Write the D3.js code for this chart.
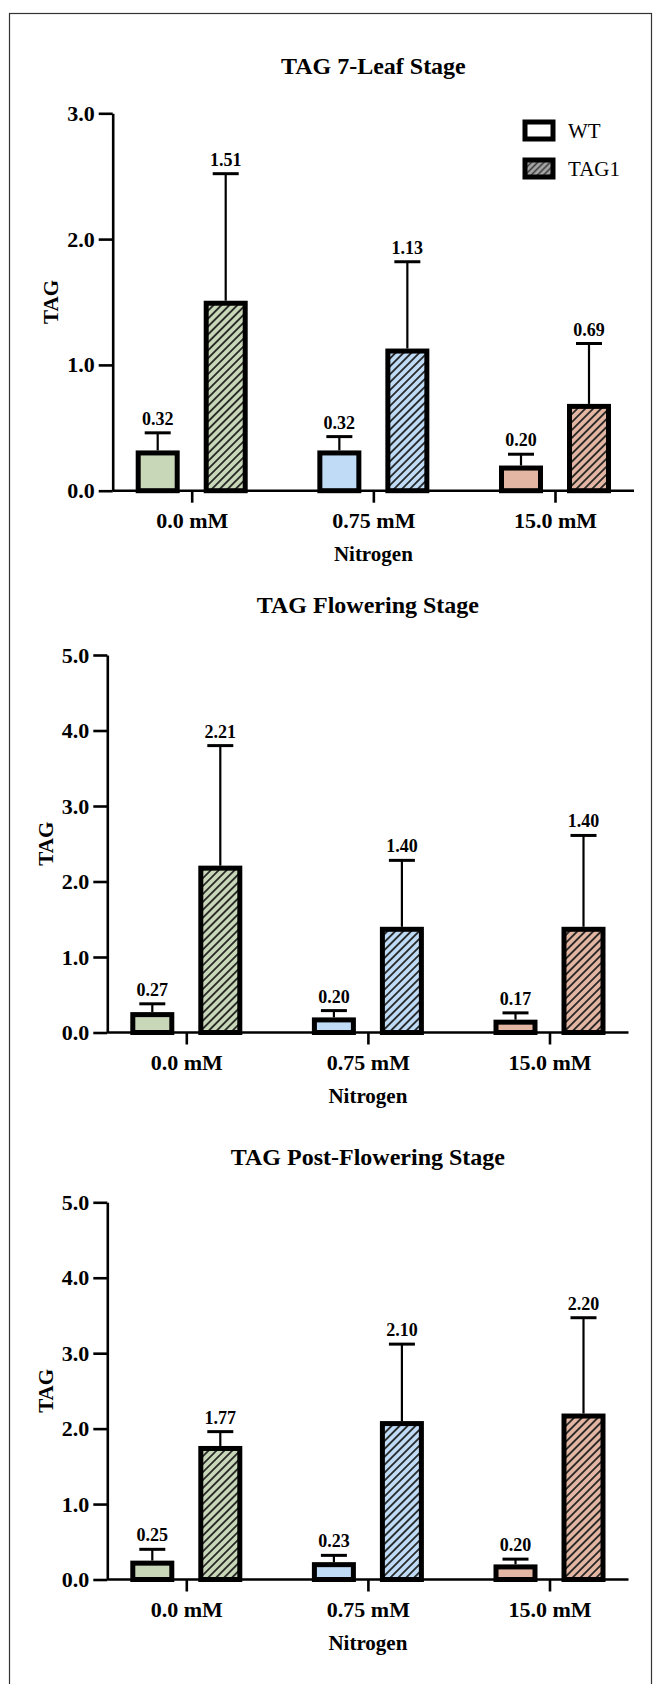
<!DOCTYPE html>
<html>
<head>
<meta charset="utf-8">
<script src="https://cdn.jsdelivr.net/npm/d3@7"></script>
<style>
  html, body { margin: 0; padding: 0; background: #fff; }
  svg { display: block; }
  text { font-family: "Liberation Serif", "Times New Roman", serif; fill: #000; }
</style>
</head>
<body>
<svg id="chart" width="654" height="1684"></svg>
<script>
// ---------- data ----------
const categories = ["0.0 mM", "0.75 mM", "15.0 mM"];
const series = ["WT", "TAG1"];
const stageTitles = ["TAG 7-Leaf Stage", "TAG Flowering Stage", "TAG Post-Flowering Stage"];
const yAxisTitle = "TAG";
const xAxisTitle = "Nitrogen";

const wt7Leaf = [0.32, 0.32, 0.20];
const tag7Leaf = [1.51, 1.13, 0.69];
const wtErr7Leaf = [0.14, 0.11, 0.09];
const tagErr7Leaf = [1.01, 0.69, 0.48];

const wtFlowering = [0.27, 0.20, 0.17];
const tagFlowering = [2.21, 1.40, 1.40];
const wtErrFlowering = [0.11, 0.09, 0.09];
const tagErrFlowering = [1.59, 0.88, 1.21];

const wtPost = [0.25, 0.23, 0.20];
const tagPost = [1.77, 2.10, 2.20];
const wtErrPost = [0.15, 0.09, 0.07];
const tagErrPost = [0.19, 1.02, 1.27];

const yMax7Leaf = 3, yMaxFlowering = 5, yMaxPost = 5;
const yTicks7Leaf = [0, 1, 2, 3];
const yTicksFlowering = [0, 1, 2, 3, 4, 5];
const yTicksPost = [0, 1, 2, 3, 4, 5];

const categoryColors = ["#c9d7b9", "#bfdbf5", "#e2b6a3"];

// ---------- drawing ----------
const FONT = "'Liberation Serif', 'Times New Roman', serif";
const svg = d3.select("#chart");
const defs = svg.append("defs");

function hatch(id, bg, lineColor, spacing, sw) {
  const p = defs.append("pattern").attr("id", id)
    .attr("patternUnits", "userSpaceOnUse")
    .attr("width", spacing).attr("height", spacing)
    .attr("patternTransform", "rotate(45)");
  p.append("rect").attr("width", spacing).attr("height", spacing).attr("fill", bg);
  p.append("line").attr("x1", spacing / 2).attr("x2", spacing / 2)
    .attr("y1", 0).attr("y2", spacing)
    .attr("stroke", lineColor).attr("stroke-width", sw);
}
categoryColors.forEach((c, i) => hatch("hatch" + i, c, "#1a1a1a", 5.6, 1.7));
hatch("hatchLegend", "#a8a8a8", "#3a3a3a", 4.4, 1.6);

// outer frame
svg.append("rect").attr("x", 9.5).attr("y", 13.5).attr("width", 642).attr("height", 1680)
  .attr("fill", "none").attr("stroke", "#333").attr("stroke-width", 1.2);

const panels = [
  { title: stageTitles[0], wt: wt7Leaf, tag: tag7Leaf, wtErr: wtErr7Leaf, tagErr: tagErr7Leaf,
    yMax: yMax7Leaf, ticks: yTicks7Leaf, left: 112.7, right: 634, top: 113.3, bottom: 490.7, titleY: 74, legend: true },
  { title: stageTitles[1], wt: wtFlowering, tag: tagFlowering, wtErr: wtErrFlowering, tagErr: tagErrFlowering,
    yMax: yMaxFlowering, ticks: yTicksFlowering, left: 107.3, right: 628.5, top: 655, bottom: 1032.5, titleY: 613, legend: false },
  { title: stageTitles[2], wt: wtPost, tag: tagPost, wtErr: wtErrPost, tagErr: tagErrPost,
    yMax: yMaxPost, ticks: yTicksPost, left: 107.3, right: 628.5, top: 1202.3, bottom: 1579.5, titleY: 1165, legend: false }
];

const barStroke = 5;
const barOuterW = 44;

panels.forEach(p => {
  const g = svg.append("g");
  const y = d3.scaleLinear().domain([0, p.yMax]).range([p.bottom, p.top]);
  const x = d3.scalePoint().domain(categories).range([p.left + 79, p.right - 79]);
  const xs = d3.scaleBand().domain(series).range([-68, 68]);

  // title
  g.append("text").attr("x", (p.left + p.right) / 2).attr("y", p.titleY)
    .attr("text-anchor", "middle").attr("font-size", 24).attr("font-weight", "bold")
    .text(p.title);

  // y axis
  const ya = g.append("g").attr("transform", `translate(${p.left},0)`)
    .call(d3.axisLeft(y).tickValues(p.ticks).tickSize(14).tickSizeOuter(0).tickPadding(4)
      .tickFormat(d3.format(".1f")));
  ya.select(".domain").attr("stroke-width", 2.6).attr("stroke", "#000");
  ya.selectAll(".tick line").attr("stroke-width", 2.6).attr("stroke", "#000");
  ya.selectAll(".tick text").attr("font-size", 22).attr("font-weight", "bold")
    .attr("font-family", FONT).attr("fill", "#000");

  // y title
  g.append("text")
    .attr("transform", `translate(${p.left - 62},${(p.top + p.bottom) / 2}) rotate(-90)`)
    .attr("text-anchor", "middle").attr("dy", "0.35em")
    .attr("font-size", 21).attr("font-weight", "bold").text(yAxisTitle);

  // bars
  categories.forEach((cat, i) => {
    const vals = [p.wt[i], p.tag[i]];
    const errs = [p.wtErr[i], p.tagErr[i]];
    series.forEach((s, j) => {
      const cx = x(cat) + xs(s) + xs.bandwidth() / 2;
      const v = vals[j], e = errs[j];
      // error bar
      g.append("line").attr("x1", cx).attr("x2", cx).attr("y1", y(v)).attr("y2", y(v + e))
        .attr("stroke", "#000").attr("stroke-width", 2.2);
      g.append("line").attr("x1", cx - 13).attr("x2", cx + 13).attr("y1", y(v + e)).attr("y2", y(v + e))
        .attr("stroke", "#000").attr("stroke-width", 3);
      // bar
      g.append("rect")
        .attr("x", cx - barOuterW / 2 + barStroke / 2)
        .attr("y", y(v) + barStroke / 2)
        .attr("width", barOuterW - barStroke)
        .attr("height", Math.max(0, y(0) - y(v) - barStroke / 2))
        .attr("fill", j === 0 ? categoryColors[i] : `url(#hatch${i})`)
        .attr("stroke", "#000").attr("stroke-width", barStroke);
      // value label
      g.append("text").attr("x", cx).attr("y", y(v + e) - 8)
        .attr("text-anchor", "middle").attr("font-size", 18).attr("font-weight", "bold")
        .text(d3.format(".2f")(v));
    });
  });

  // x axis
  g.append("line").attr("x1", p.left).attr("x2", p.right).attr("y1", p.bottom).attr("y2", p.bottom)
    .attr("stroke", "#000").attr("stroke-width", 2.6);
  const xa = g.append("g").attr("transform", `translate(0,${p.bottom})`)
    .call(d3.axisBottom(x).tickSize(12).tickSizeOuter(0).tickPadding(10));
  xa.select(".domain").remove();
  xa.selectAll(".tick line").attr("stroke-width", 2.6).attr("stroke", "#000");
  xa.selectAll(".tick text").attr("font-size", 22).attr("font-weight", "bold")
    .attr("font-family", FONT).attr("fill", "#000");

  // x title
  g.append("text").attr("x", x(categories[1])).attr("y", p.bottom + 70)
    .attr("text-anchor", "middle").attr("font-size", 21).attr("font-weight", "bold")
    .text(xAxisTitle);

  // legend
  if (p.legend) {
    const lg = g.append("g");
    series.forEach((s, j) => {
      const ly = 119.5 + j * 38;
      lg.append("rect").attr("x", 522.5 + 2.5).attr("y", ly + 2.5).attr("width", 33 - 5).attr("height", 22 - 5)
        .attr("fill", j === 0 ? "#fff" : "url(#hatchLegend)")
        .attr("stroke", "#000").attr("stroke-width", 5);
      lg.append("text").attr("x", 568).attr("y", ly + 18).attr("font-size", 21).text(s);
    });
  }
});
</script>
</body>
</html>
